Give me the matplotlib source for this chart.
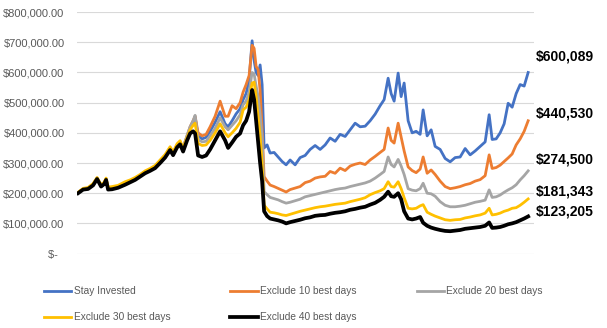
import matplotlib
matplotlib.use('Agg')
import matplotlib.pyplot as plt
from matplotlib.ticker import FuncFormatter

# trading period index (common to all series)
period = [0, 5, 10, 15, 19, 23, 26, 28, 30, 34, 40, 47, 52, 57, 62, 67, 72, 77, 82, 87, 92, 95, 99, 102,
          105, 109, 112, 115, 117, 120, 124, 128, 132, 137, 142, 147, 150, 154, 158, 162, 165, 168, 171, 174, 176, 178, 180, 182, 184,
          186, 189, 192, 196, 200, 204, 208, 212, 217, 222, 227, 232, 237, 242, 247, 252, 257, 262, 267, 272, 277, 282, 287, 292, 297,
          302, 306, 310, 313, 316, 320, 323, 326, 330, 334, 338, 342,
          345, 349, 353, 357, 362, 367, 372, 377, 382, 387, 392, 397, 402, 407, 411, 414, 418, 422, 426, 430, 434, 438, 442, 446, 450]

# portfolio values in $ thousands
stay_invested = [201, 213, 215, 227, 249, 223, 231, 245, 214, 215, 220, 230, 238, 246, 257, 268, 276, 286, 303, 321, 346, 330, 356, 366,
                 345, 385, 412, 435, 450, 390, 380, 385, 405, 435, 470, 430, 420, 440, 463, 480, 510, 530, 575, 705, 640, 600, 590, 625, 560,
                 350, 360, 333, 335, 320, 305, 294, 310, 294, 318, 325, 345, 358, 345, 360, 383, 372, 395, 388, 410, 432, 420, 422, 440, 462,
                 490, 510, 581, 530, 505, 598, 520, 565, 440, 400, 405, 395,
                 476, 390, 410, 355, 345, 315, 304, 318, 320, 348, 327, 340, 355, 370, 460, 378, 380, 400, 430, 498, 485, 530, 560, 555, 600]
excl_10 = [202, 214, 217, 229, 250, 225, 233, 247, 217, 218, 222, 233, 240, 248, 259, 270, 278, 288, 306, 324, 349, 332, 359, 368,
           352, 390, 420, 440, 455, 400, 390, 395, 420, 455, 505, 455, 455, 490, 480, 500, 535, 560, 590, 690, 680, 620, 610, 540, 410,
           255, 240, 227, 222, 216, 210, 204, 212, 217, 222, 235, 240, 250, 254, 256, 272, 266, 283, 275, 290, 296, 300, 295, 310, 322,
           335, 345, 416, 375, 366, 432, 386, 340, 287, 275, 268, 280,
           320, 266, 277, 262, 240, 222, 215, 218, 222, 228, 232, 240, 245, 258, 327, 282, 285, 293, 305, 317, 330, 360, 380, 405, 440]
excl_20 = [202, 214, 216, 229, 250, 225, 233, 247, 216, 218, 222, 233, 240, 248, 258, 270, 278, 288, 305, 323, 348, 332, 358, 368,
           350, 392, 420, 440, 458, 378, 370, 372, 390, 415, 450, 420, 410, 425, 440, 460, 493, 505, 535, 600, 595, 555, 520, 460, 387,
           205, 195, 186, 182, 178, 172, 167, 170, 175, 180, 188, 192, 196, 200, 204, 208, 212, 215, 217, 222, 226, 230, 234, 240, 250,
           262, 272, 320, 295, 287, 312, 290, 262, 215, 210, 208, 215,
           233, 200, 198, 190, 172, 160, 155, 155, 157, 160, 165, 170, 173, 177, 211, 186, 188, 194, 203, 211, 218, 228, 244, 258, 274]
excl_30 = [203, 216, 219, 232, 252, 228, 236, 250, 220, 222, 226, 238, 244, 252, 262, 274, 282, 292, 310, 328, 354, 337, 364, 374,
           348, 385, 410, 425, 432, 365, 358, 360, 375, 400, 430, 400, 387, 400, 415, 435, 476, 485, 510, 565, 568, 520, 453, 390, 300,
           160, 148, 137, 135, 132, 128, 126, 130, 135, 140, 144, 148, 152, 155, 157, 160, 163, 165, 167, 172, 176, 180, 185, 195, 202,
           208, 215, 238, 222, 220, 238, 215, 185, 150, 148, 150, 158,
           162, 137, 130, 124, 118, 112, 110, 112, 113, 118, 121, 125, 128, 134, 150, 128, 130, 134, 140, 144, 150, 152, 160, 170, 181]
excl_40 = [200, 212, 214, 226, 247, 222, 230, 244, 212, 213, 218, 228, 236, 244, 255, 266, 274, 283, 300, 318, 343, 326, 352, 362,
           338, 375, 398, 405, 398, 325, 320, 325, 345, 375, 405, 375, 350, 368, 387, 398, 425, 440, 470, 542, 510, 440, 370, 300, 240,
           140, 124, 116, 113, 110, 106, 100, 104, 108, 112, 117, 120, 125, 127, 128, 132, 135, 137, 140, 145, 148, 152, 155, 162, 168,
           178, 188, 205, 190, 188, 200, 180, 140, 116, 113, 116, 121,
           102, 92, 86, 82, 78, 75, 74, 76, 78, 82, 84, 86, 88, 92, 103, 85, 86, 88, 92, 97, 100, 104, 110, 116, 123]

series_names = ['Stay Invested', 'Exclude 10 best days', 'Exclude 20 best days',
                'Exclude 30 best days', 'Exclude 40 best days']
series_vals = [stay_invested, excl_10, excl_20, excl_30, excl_40]
colors = ['#4472C4', '#ED7D31', '#A5A5A5', '#FFC000', '#000000']
end_labels = ['$600,089', '$440,530', '$274,500', '$181,343', '$123,205']
end_label_y = [653, 463, 311, 204, 138]   # label positions, $ thousands

plt.rcParams['font.family'] = ['Liberation Sans', 'DejaVu Sans']

fig = plt.figure(figsize=(6.07, 3.28), dpi=100)
ax = fig.add_axes([0.127, 0.227, 0.753, 0.736])

for name, vals, c in zip(series_names, series_vals, colors):
    lw = 2.7 if c == '#000000' else 2.0
    ax.plot(period, [v * 1000 for v in vals], color=c, lw=lw, label=name,
            solid_joinstyle='round')

ax.set_xlim(-1, 456)
ax.set_ylim(0, 800000)
ax.set_yticks(range(0, 800001, 100000))

def money(v, pos):
    if v == 0:
        return '$-  '
    return '${:,.2f}'.format(v)

ax.yaxis.set_major_formatter(FuncFormatter(money))
ax.tick_params(axis='y', length=0, labelsize=8, labelcolor='#595959', pad=9)
ax.tick_params(axis='x', length=0, labelbottom=False)
ax.grid(axis='y', color='#D9D9D9', lw=0.8)
ax.set_axisbelow(True)
for s in ax.spines.values():
    s.set_visible(False)

for lab, ly in zip(end_labels, end_label_y):
    ax.text(458, ly * 1000, lab, fontsize=10, fontweight='bold', color='black',
            va='center', ha='left', clip_on=False)

h, l = ax.get_legend_handles_labels()
order = [0, 3, 1, 4, 2]
fig.legend([h[i] for i in order], [l[i] for i in order], ncol=3,
           loc='upper left', bbox_to_anchor=(0.066, 0.14), frameon=False,
           fontsize=7.3, labelcolor='#595959', handlelength=2.7, handletextpad=0.2,
           columnspacing=5.95, labelspacing=1.6, borderaxespad=0)

fig.savefig('out.png', dpi=100)
